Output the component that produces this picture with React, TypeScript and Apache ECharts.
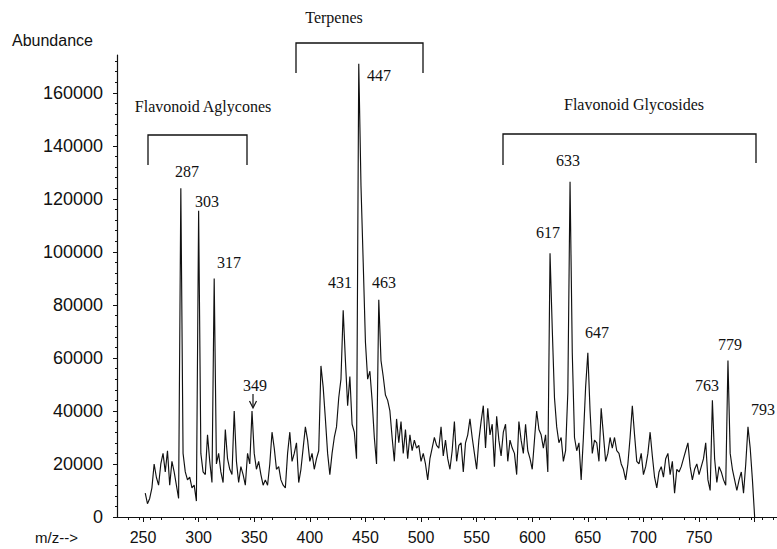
import React, { useEffect, useRef } from "react";
import * as echarts from "echarts";

// m/z sampling points (every 2 units)
const mz = [
  252, 254, 256, 258, 260, 262, 264, 266, 268, 270,
  272, 274, 276, 278, 280, 282, 284, 286, 288, 290,
  292, 294, 296, 298, 300, 302, 304, 306, 308, 310,
  312, 314, 316, 318, 320, 322, 324, 326, 328, 330,
  332, 334, 336, 338, 340, 342, 344, 346, 348, 350,
  352, 354, 356, 358, 360, 362, 364, 366, 368, 370,
  372, 374, 376, 378, 380, 382, 384, 386, 388, 390,
  392, 394, 396, 398, 400, 402, 404, 406, 408, 410,
  412, 414, 416, 418, 420, 422, 424, 426, 428, 430,
  432, 434, 436, 438, 440, 442, 444, 446, 448, 450,
  452, 454, 456, 458, 460, 462, 464, 466, 468, 470,
  472, 474, 476, 478, 480, 482, 484, 486, 488, 490,
  492, 494, 496, 498, 500, 502, 504, 506, 508, 510,
  512, 514, 516, 518, 520, 522, 524, 526, 528, 530,
  532, 534, 536, 538, 540, 542, 544, 546, 548, 550,
  552, 554, 556, 558, 560, 562, 564, 566, 568, 570,
  572, 574, 576, 578, 580, 582, 584, 586, 588, 590,
  592, 594, 596, 598, 600, 602, 604, 606, 608, 610,
  612, 614, 616, 618, 620, 622, 624, 626, 628, 630,
  632, 634, 636, 638, 640, 642, 644, 646, 648, 650,
  652, 654, 656, 658, 660, 662, 664, 666, 668, 670,
  672, 674, 676, 678, 680, 682, 684, 686, 688, 690,
  692, 694, 696, 698, 700, 702, 704, 706, 708, 710,
  712, 714, 716, 718, 720, 722, 724, 726, 728, 730,
  732, 734, 736, 738, 740, 742, 744, 746, 748, 750,
  752, 754, 756, 758, 760, 762, 764, 766, 768, 770,
  772, 774, 776, 778, 780, 782, 784, 786, 788, 790,
  792, 794, 796, 798, 800,
];

// Abundance
const abundance = [
  9000, 5000, 7000, 11000, 20000, 15000, 12000, 20000, 24000, 17000,
  25000, 12000, 21000, 17000, 12000, 7000, 124000, 24000, 17000, 14000,
  15000, 11000, 12000, 6000, 115500, 24000, 17000, 16000, 31000, 21000,
  13000, 90000, 20000, 24000, 17000, 13000, 33000, 22000, 18000, 16000,
  40000, 21000, 13000, 19000, 16000, 12000, 24000, 20000, 40000, 24000,
  18000, 21000, 16000, 12000, 14000, 12000, 20000, 32000, 26000, 18000,
  19000, 14000, 12000, 11000, 24000, 32000, 21000, 24000, 28000, 13000,
  18000, 26000, 34000, 29000, 21000, 24000, 18000, 22000, 25000, 57000,
  49000, 37000, 24000, 16000, 24000, 30000, 34000, 45000, 52000, 78000,
  59000, 42000, 53000, 35000, 32000, 22000, 171000, 125000, 96000, 66000,
  52000, 55000, 44000, 30000, 20000, 82000, 59000, 53000, 46000, 44000,
  40000, 30000, 21000, 37000, 28000, 36000, 24000, 33000, 22000, 31000,
  25000, 29000, 26000, 27000, 21000, 24000, 20000, 14000, 22000, 26000,
  30000, 27000, 26000, 34000, 23000, 29000, 22000, 18000, 25000, 36000,
  21000, 27000, 28000, 17000, 28000, 31000, 37000, 30000, 24000, 18000,
  29000, 36000, 42000, 26000, 41000, 31000, 35000, 19000, 38000, 29000,
  23000, 32000, 35000, 21000, 29000, 26000, 24000, 16000, 36000, 29000,
  24000, 35000, 25000, 22000, 18000, 29000, 40000, 33000, 31000, 26000,
  31000, 17000, 99500, 71000, 45000, 34000, 28000, 30000, 21000, 25000,
  47000, 126500, 62000, 30000, 25000, 28000, 14000, 30000, 49000, 62000,
  40000, 24000, 29000, 28000, 21000, 41000, 31000, 21000, 24000, 30000,
  26000, 30000, 25000, 24000, 20000, 18000, 14000, 20000, 30000, 42000,
  31000, 21000, 20000, 24000, 16000, 19000, 24000, 32000, 23000, 15000,
  11000, 17000, 19000, 15000, 22000, 24000, 16000, 21000, 9000, 18000,
  17000, 19000, 22000, 25000, 28000, 19000, 14000, 18000, 20000, 16000,
  19000, 22000, 28000, 14000, 10000, 44000, 22000, 13000, 19000, 17000,
  14000, 12000, 59000, 24000, 18000, 14000, 10000, 14000, 17000, 9000,
  20000, 34000, 26000, 14000, 0,
];

const xTickValues = [250, 300, 350, 400, 450, 500, 550, 600, 650, 700, 750, 800];
const xLabelValues = [250, 300, 350, 400, 450, 500, 550, 600, 650, 700, 750];
const yTickValues = [0, 20000, 40000, 60000, 80000, 100000, 120000, 140000, 160000];

const peakLabels = ["287", "303", "317", "349", "431", "447", "463", "617", "633", "647", "763", "779", "793"];
const groupNames = ["Flavonoid Aglycones", "Terpenes", "Flavonoid Glycosides"];

// pixel placement of annotation texts (centers)
const peakLabelPos: [number, number][] = [
  [187, 171], [207, 201], [229, 262], [255, 385], [340, 282], [379, 75], [384, 282],
  [548, 232], [568, 160], [597, 332], [707, 385], [730, 344], [763, 409],
];
const groupNamePos: [number, number][] = [[203, 106], [334, 17], [634, 104]];

export default function App() {
  const ref = useRef<HTMLDivElement>(null);
  useEffect(() => {
    document.body.style.margin = "0";
    document.body.style.background = "#fff";
    if (!ref.current) return;
    const chart = echarts.init(ref.current, null, { renderer: "svg" });
    const data = mz.map((m, i) => [m, abundance[i]]);
    const serif = '16px "Liberation Serif", "Times New Roman", serif';
    const sans = '"Liberation Sans", Arial, Helvetica, sans-serif';
    const bracket = (pts: number[][]) => ({
      type: "polyline",
      shape: { points: pts },
      style: { stroke: "#111", lineWidth: 1.3, fill: null },
      silent: true,
    });
    const graphics: any[] = [];
    peakLabels.forEach((t, i) => {
      graphics.push({
        type: "text",
        style: { text: t, x: peakLabelPos[i][0], y: peakLabelPos[i][1], font: serif, fill: "#111", align: "center", verticalAlign: "middle" },
      });
    });
    groupNames.forEach((t, i) => {
      graphics.push({
        type: "text",
        style: { text: t, x: groupNamePos[i][0], y: groupNamePos[i][1], font: serif, fill: "#111", align: "center", verticalAlign: "middle" },
      });
    });
    graphics.push(bracket([[148, 165], [148, 135], [247, 135], [247, 165]]));
    graphics.push(bracket([[296, 73], [296, 43], [423, 43], [423, 73]]));
    graphics.push(bracket([[503, 165], [503, 134], [756, 134], [756, 163]]));
    // arrow under 349
    graphics.push({ type: "line", shape: { x1: 253, y1: 394, x2: 253, y2: 407 }, style: { stroke: "#111", lineWidth: 1.2 } });
    graphics.push({ type: "polyline", shape: { points: [[249.5, 401], [253, 408], [256.5, 401]] }, style: { stroke: "#111", lineWidth: 1.2, fill: null } });
    graphics.push({
      type: "text",
      style: { text: "Abundance", x: 12, y: 40, font: `16px ${sans}`, fill: "#111", align: "left", verticalAlign: "middle" },
    });
    graphics.push({
      type: "text",
      style: { text: "m/z-->", x: 35, y: 537, font: `15px ${sans}`, fill: "#111", align: "left", verticalAlign: "middle" },
    });

    chart.setOption({
      animation: false,
      backgroundColor: "#fff",
      grid: { left: 117, right: 0, top: 55, bottom: 32, containLabel: false },
      xAxis: {
        type: "value",
        min: 226.6,
        max: 820.1,
        interval: 50,
        axisLine: { show: true, lineStyle: { color: "#111", width: 1.2 } },
        axisTick: { show: true, length: 5, lineStyle: { color: "#111" }, customValues: xTickValues },
        minorTick: { show: true, splitNumber: 5, length: 3, lineStyle: { color: "#111" } },
        splitLine: { show: false },
        minorSplitLine: { show: false },
        axisLabel: {
          color: "#111",
          fontFamily: sans,
          fontSize: 16,
          margin: 12,
          customValues: xLabelValues,
          formatter: (v: number) => (xLabelValues.includes(v) ? String(v) : ""),
        },
      },
      yAxis: {
        type: "value",
        min: 0,
        max: 174300,
        interval: 20000,
        axisLine: { show: true, lineStyle: { color: "#111", width: 1.2 } },
        axisTick: { show: true, length: 4, lineStyle: { color: "#111" }, customValues: yTickValues },
        minorTick: { show: true, splitNumber: 5, length: 2, lineStyle: { color: "#111" } },
        splitLine: { show: false },
        minorSplitLine: { show: false },
        axisLabel: {
          color: "#111",
          fontFamily: sans,
          fontSize: 18,
          margin: 14,
          customValues: yTickValues,
          formatter: (v: number) => (yTickValues.includes(v) ? String(v) : ""),
        },
      },
      series: [
        {
          type: "line",
          data,
          showSymbol: false,
          symbol: "none",
          lineStyle: { color: "#111", width: 1.15 },
          clip: false,
        },
      ],
      graphic: graphics,
    });
    return () => chart.dispose();
  }, []);
  return <div ref={ref} style={{ width: 777, height: 549 }} />;
}
